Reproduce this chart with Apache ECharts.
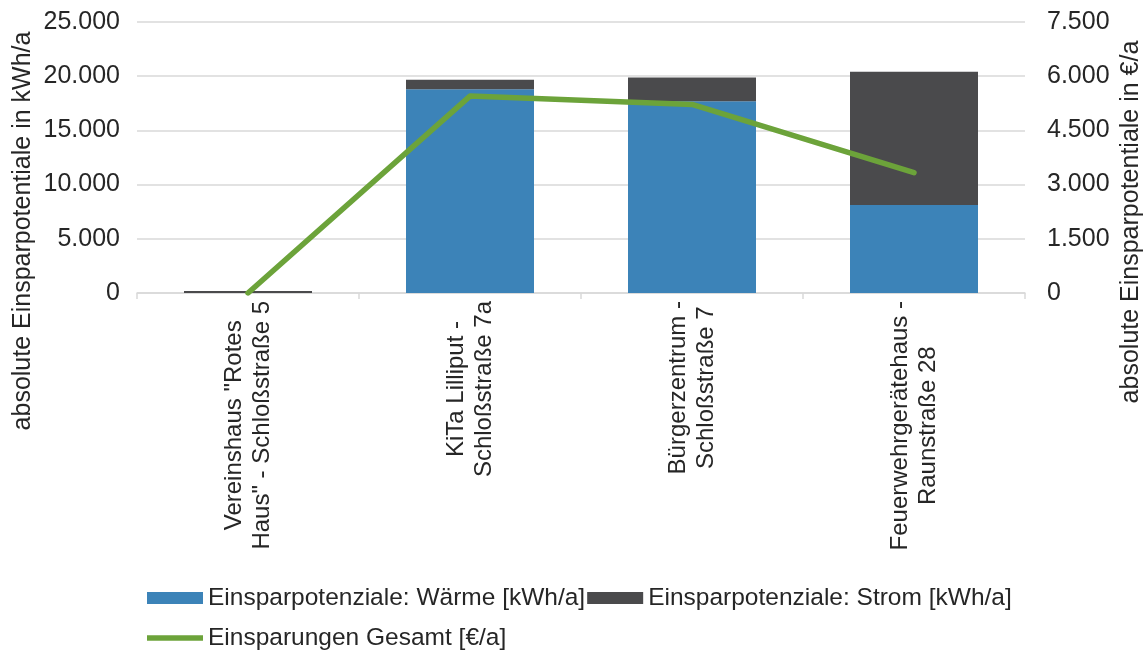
<!DOCTYPE html>
<html>
<head>
<meta charset="utf-8">
<script src="https://cdn.jsdelivr.net/npm/echarts@6/dist/echarts.min.js"></script>
<style>
html,body{margin:0;padding:0;background:#fff;}
#chart{width:1147px;height:652px;}
</style>
</head>
<body>
<div id="chart"></div>
<script>
const categories = [
  ['Vereinshaus "Rotes', 'Haus" - Schloßstraße 5'],
  ['KiTa Lilliput -', 'Schloßstraße 7a'],
  ['Bürgerzentrum -', 'Schloßstraße 7'],
  ['Feuerwehrgerätehaus -', 'Raunstraße 28']
];
const waerme = [0, 18790, 17680, 8120];
const strom = [180, 890, 2210, 12300];
const gesamt = [0, 5450, 5220, 3330];
const leftTicks = { min: 0, max: 25000, interval: 5000 };
const rightTicks = { min: 0, max: 7500, interval: 1500 };
const names = ['Einsparpotenziale: Wärme [kWh/a]', 'Einsparpotenziale: Strom [kWh/a]', 'Einsparungen Gesamt [€/a]'];
const leftTitle = 'absolute Einsparpotentiale in kWh/a';
const rightTitle = 'absolute Einsparpotentiale in €/a';

const FONT = '"Liberation Sans", Arial, sans-serif';
const TXT = '#262626';
const GREEN = '#6ca33a';
const fmt = v => v.toLocaleString('de-DE');

const chart = echarts.init(document.getElementById('chart'), null, { renderer: 'canvas' });
chart.setOption({
  animation: false,
  backgroundColor: '#fff',
  textStyle: { fontFamily: FONT },
  grid: { left: 137, right: 122, top: 22, bottom: 359, containLabel: false },
  legend: {
    left: 147, top: 579, width: 880, padding: 0,
    itemWidth: 56, itemHeight: 12, itemGap: 2,
    textStyle: { fontFamily: FONT, fontSize: 24.5, color: TXT, lineHeight: 38 },
    data: [
      { name: names[0], icon: 'rect' },
      { name: names[1], icon: 'rect' },
      { name: names[2], icon: 'path://M0,0L112,0L112,11L0,11Z', itemStyle: { color: GREEN } }
    ]
  },
  xAxis: {
    type: 'category',
    data: categories.map(c => c.join('\n')),
    axisLine: { lineStyle: { color: '#d9d9d9', width: 1.5 } },
    axisTick: { show: true, interval: 0, length: 6, lineStyle: { color: '#d9d9d9', width: 1.5 } },
    axisLabel: {
      interval: 0, rotate: 90, margin: 8,
      fontFamily: FONT, fontSize: 24, color: TXT, lineHeight: 28,
      formatter: v => v.split('\n').map(s => '{c|' + s + '}').join('\n'),
      rich: { c: { align: 'center', fontFamily: FONT, fontSize: 24, color: TXT, lineHeight: 28 } }
    }
  },
  yAxis: [
    {
      type: 'value', min: leftTicks.min, max: leftTicks.max, interval: leftTicks.interval,
      axisLine: { show: false }, axisTick: { show: false },
      splitLine: { lineStyle: { color: '#d9d9d9', width: 1.5 } },
      axisLabel: { margin: 17, fontFamily: FONT, fontSize: 25, color: TXT, formatter: fmt }
    },
    {
      type: 'value', min: rightTicks.min, max: rightTicks.max, interval: rightTicks.interval,
      axisLine: { show: false }, axisTick: { show: false },
      splitLine: { show: false },
      axisLabel: { margin: 22, fontFamily: FONT, fontSize: 25, color: TXT, formatter: fmt }
    }
  ],
  graphic: [
    { type: 'text', x: 23, y: 231, rotation: Math.PI / 2,
      style: { text: leftTitle, fontFamily: FONT, fontSize: 25, fill: TXT, align: 'center', verticalAlign: 'middle' } },
    { type: 'text', x: 1131, y: 222, rotation: Math.PI / 2,
      style: { text: rightTitle, fontFamily: FONT, fontSize: 25, fill: TXT, align: 'center', verticalAlign: 'middle' } }
  ],
  series: [
    { name: names[0], type: 'bar', stack: 'a', data: waerme, barWidth: 128,
      itemStyle: { color: '#3c83b8' } },
    { name: names[1], type: 'bar', stack: 'a', data: strom, barWidth: 128,
      itemStyle: { color: '#4a4a4c' } },
    { name: names[2], type: 'line', yAxisIndex: 1, data: gesamt,
      symbol: 'none', lineStyle: { color: GREEN, width: 5.5, cap: 'round', join: 'round' },
      itemStyle: { color: GREEN } }
  ]
});
</script>
</body>
</html>
